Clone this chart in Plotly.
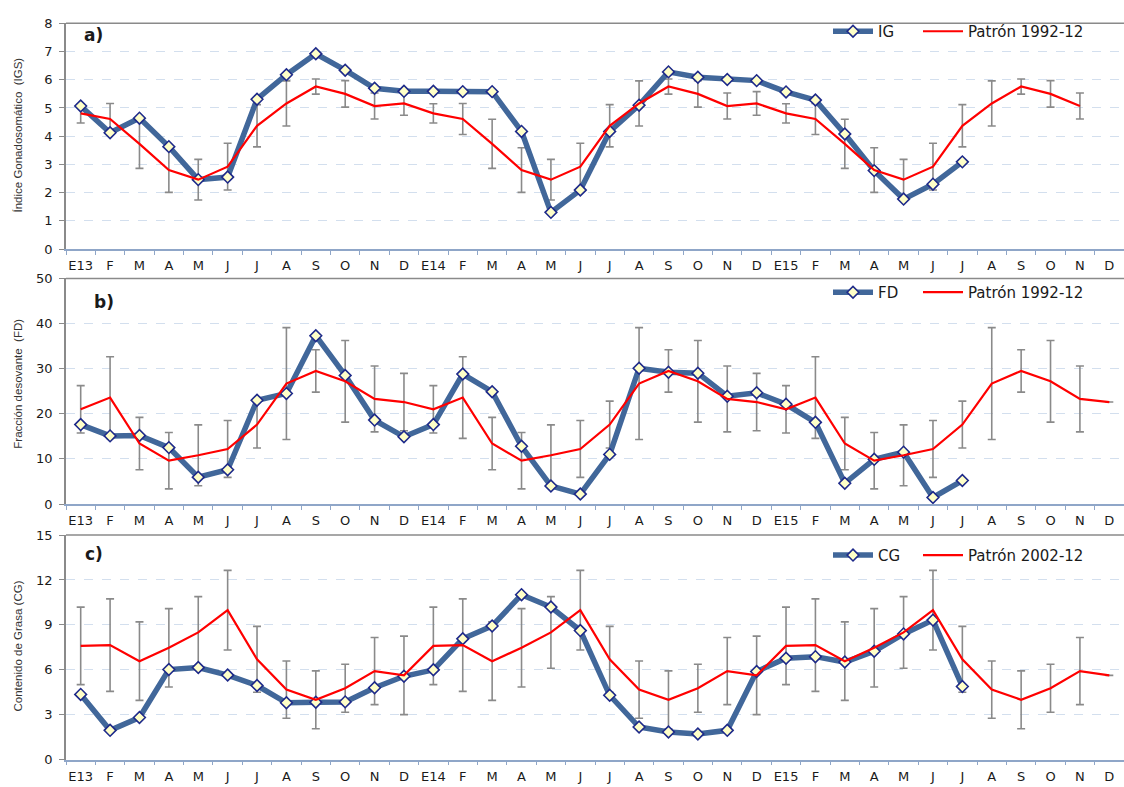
import plotly.graph_objects as go

# Month labels for the three-year window (Jan 2013 - Dec 2015)
months = ["E13", "F", "M", "A", "M", "J", "J", "A", "S", "O", "N", "D",
          "E14", "F", "M", "A", "M", "J", "J", "A", "S", "O", "N", "D",
          "E15", "F", "M", "A", "M", "J", "J", "A", "S", "O", "N", "D"]

# a) Gonadosomatic index: observed series and 1992-12 monthly pattern (mean, sd)
ig = [5.07, 4.12, 4.64, 3.63, 2.46, 2.55, 5.31, 6.18, 6.92, 6.34, 5.70, 5.59,
      5.59, 5.58, 5.58, 4.17, 1.30, 2.09, 4.17, 5.10, 6.28, 6.09, 6.01, 5.97,
      5.57, 5.28, 4.08, 2.78, 1.77, 2.30, 3.09]
ig_patron = [4.81, 4.61, 3.73, 2.80, 2.46, 2.92, 4.37, 5.16, 5.76, 5.50, 5.07, 5.16,
             4.81, 4.61, 3.73, 2.80, 2.46, 2.92, 4.37, 5.16, 5.76, 5.50, 5.07, 5.16,
             4.81, 4.61, 3.73, 2.80, 2.46, 2.92, 4.37, 5.16, 5.76, 5.50, 5.07]
ig_patron_sd = [0.34, 0.55, 0.87, 0.79, 0.72, 0.83, 0.75, 0.80, 0.27, 0.47, 0.46, 0.42,
                0.34, 0.55, 0.87, 0.79, 0.72, 0.83, 0.75, 0.80, 0.27, 0.47, 0.46, 0.42,
                0.34, 0.55, 0.87, 0.79, 0.72, 0.83, 0.75, 0.80, 0.27, 0.47, 0.46]

# b) Spawning fraction
fd = [17.6, 15.1, 15.2, 12.5, 5.95, 7.6, 23.0, 24.5, 37.3, 28.5, 18.6, 14.9,
      17.6, 28.8, 24.9, 12.8, 4.0, 2.2, 11.0, 30.1, 29.2, 29.0, 23.9, 24.65,
      22.1, 18.1, 4.6, 9.9, 11.5, 1.45, 5.2]
fd_patron = [21.0, 23.6, 13.4, 9.6, 10.8, 12.2, 17.6, 26.7, 29.5, 27.2, 23.3, 22.6,
             21.0, 23.6, 13.4, 9.6, 10.8, 12.2, 17.6, 26.7, 29.5, 27.2, 23.3, 22.6,
             21.0, 23.6, 13.4, 9.6, 10.8, 12.2, 17.6, 26.7, 29.5, 27.2, 23.3, 22.6]
fd_patron_sd = [5.25, 9.05, 5.8, 6.25, 6.75, 6.3, 5.2, 12.4, 4.7, 9.05, 7.3, 6.35,
                5.25, 9.05, 5.8, 6.25, 6.75, 6.3, 5.2, 12.4, 4.7, 9.05, 7.3, 6.35,
                5.25, 9.05, 5.8, 6.25, 6.75, 6.3, 5.2, 12.4, 4.7, 9.05, 7.3, None]

# c) Fat content, pattern 2002-12
cg = [4.36, 1.96, 2.82, 6.02, 6.15, 5.65, 4.95, 3.80, 3.84, 3.86, 4.80, 5.57,
      6.00, 8.07, 8.93, 11.02, 10.19, 8.62, 4.30, 2.18, 1.85, 1.72, 1.96, 5.89,
      6.77, 6.88, 6.52, 7.24, 8.40, 9.32, 4.89]
cg_patron = [7.60, 7.65, 6.58, 7.47, 8.50, 9.98, 6.70, 4.68, 4.00, 4.77, 5.92, 5.63,
             7.60, 7.65, 6.58, 7.47, 8.50, 9.98, 6.70, 4.68, 4.00, 4.77, 5.92, 5.63,
             7.60, 7.65, 6.58, 7.47, 8.50, 9.98, 6.70, 4.68, 4.00, 4.77, 5.92, 5.63]
cg_patron_sd = [2.59, 3.09, 2.62, 2.62, 2.39, 2.66, 2.20, 1.91, 1.93, 1.60, 2.24, 2.62,
                2.59, 3.09, 2.62, 2.62, 2.39, 2.66, 2.20, 1.91, 1.93, 1.60, 2.24, 2.62,
                2.59, 3.09, 2.62, 2.62, 2.39, 2.66, 2.20, 1.91, 1.93, 1.60, 2.24, None]

BLUE = "#41679A"
MARKER_FILL = "#FFFFC8"
MARKER_EDGE = "#1E2A8A"
RED = "#FF0000"
GREY = "#8A8A8A"
GRID = "#D3DFEE"
XAXIS_COLOR = "#8FA6C8"
FONT = "DejaVu Sans"
TEXT = "#1A1A1A"

panels = [
    dict(obs=ig, obs_name="IG", pat=ig_patron, sd=ig_patron_sd, pat_name="Patrón 1992-12",
         ymax=8, dtick=1, title="Índice Gonadosomático  (IGS)", tag="a)",
         domain=(0.6865, 0.9788), tag_pos=(82, 29), title_y=131, leg_y=25),
    dict(obs=fd, obs_name="FD", pat=fd_patron, sd=fd_patron_sd, pat_name="Patrón 1992-12",
         ymax=50, dtick=10, title="Fracción desovante  (FD)", tag="b)",
         domain=(0.3562, 0.6484), tag_pos=(92, 301), title_y=384, leg_y=291),
    dict(obs=cg, obs_name="CG", pat=cg_patron, sd=cg_patron_sd, pat_name="Patrón 2002-12",
         ymax=15, dtick=3, title="Contenido de Grasa (CG)", tag="c)",
         domain=(0.0250, 0.3160), tag_pos=(83, 558), title_y=652, leg_y=559),
]

W, H = 1124, 787
L = 66
PW = W - L
LEG_OBS_X = 828   # left edge of the observed-series legend entry
LEG_PAT_X = 918   # left edge of the pattern legend entry

fig = go.Figure()
layout = dict(
    width=W, height=H, autosize=False,
    margin=dict(l=L, r=0, t=0, b=0),
    paper_bgcolor="white", plot_bgcolor="white",
    showlegend=True,
    annotations=[], shapes=[],
)


def legend_box(x_px, y_px):
    return dict(
        orientation="h", xanchor="left", yanchor="middle",
        x=(x_px - L) / PW, y=1 - y_px / H,
        bgcolor="rgba(0,0,0,0)", borderwidth=0,
        font=dict(family=FONT, size=15, color=TEXT),
        itemwidth=40,
    )


for i, p in enumerate(panels, start=1):
    xa = "x" if i == 1 else f"x{i}"
    ya = "y" if i == 1 else f"y{i}"
    xkey = "xaxis" if i == 1 else f"xaxis{i}"
    ykey = "yaxis" if i == 1 else f"yaxis{i}"
    leg_obs = "legend" if i == 1 else f"legend{2 * i - 1}"
    leg_pat = f"legend{2 * i}"

    # standard deviation whiskers of the monthly pattern
    fig.add_trace(go.Scatter(
        x=list(range(len(p["pat"]))), y=p["pat"], mode="markers",
        marker=dict(size=1, opacity=0),
        error_y=dict(type="data", array=p["sd"], visible=True,
                     color=GREY, thickness=1.6, width=4),
        xaxis=xa, yaxis=ya, showlegend=False, hoverinfo="skip",
    ))
    # observed monthly series
    fig.add_trace(go.Scatter(
        x=list(range(len(p["obs"]))), y=p["obs"], name=p["obs_name"],
        mode="lines+markers",
        line=dict(color=BLUE, width=5.5),
        marker=dict(symbol="diamond", size=9, color=MARKER_FILL,
                    line=dict(color=MARKER_EDGE, width=1.6)),
        xaxis=xa, yaxis=ya, legend=leg_obs,
    ))
    # historical pattern mean
    fig.add_trace(go.Scatter(
        x=list(range(len(p["pat"]))), y=p["pat"], name=p["pat_name"],
        mode="lines", line=dict(color=RED, width=2.2),
        xaxis=xa, yaxis=ya, legend=leg_pat,
    ))

    layout[xkey] = dict(
        domain=[0, 1], anchor=ya, range=[-0.5, len(months) - 0.5],
        tickmode="array", tickvals=list(range(len(months))), ticktext=months,
        ticks="outside", ticklen=4, tickcolor="rgba(0,0,0,0)",
        minor=dict(tickmode="array",
                   tickvals=[k - 0.5 for k in range(len(months) + 1)],
                   ticks="outside", ticklen=4, tickcolor=XAXIS_COLOR,
                   tickwidth=1, showgrid=False),
        showline=True, linecolor=XAXIS_COLOR, linewidth=1.5,
        showgrid=False, zeroline=False,
        tickfont=dict(family=FONT, size=13, color=TEXT),
        fixedrange=True,
    )
    layout[ykey] = dict(
        domain=list(p["domain"]), anchor=xa, range=[0, p["ymax"]],
        dtick=p["dtick"], tick0=0,
        ticks="outside", ticklen=5, tickcolor=GREY, tickwidth=1,
        showline=True, linecolor=GREY, linewidth=1.8,
        showgrid=True, gridcolor=GRID, griddash="dash", gridwidth=1,
        zeroline=False,
        tickfont=dict(family=FONT, size=13, color=TEXT),
        ticklabelstandoff=4,
        fixedrange=True,
    )
    layout[leg_obs] = legend_box(LEG_OBS_X, p["leg_y"])
    layout[leg_pat] = legend_box(LEG_PAT_X, p["leg_y"])

    # panel top border
    layout["shapes"].append(dict(
        type="line", xref=f"{xa} domain", yref=f"{ya} domain",
        x0=0, x1=1, y0=1, y1=1, line=dict(color=GREY, width=1.5),
    ))
    # panel tag
    layout["annotations"].append(dict(
        text=p["tag"], xref="paper", yref="paper",
        x=(p["tag_pos"][0] - L) / PW, y=1 - p["tag_pos"][1] / H,
        xanchor="left", yanchor="middle", showarrow=False,
        font=dict(family=FONT, size=17, color=TEXT, weight="bold"),
    ))
    # y-axis title
    layout["annotations"].append(dict(
        text=p["title"], xref="paper", yref="paper",
        x=(18 - L) / PW, y=1 - p["title_y"] / H,
        xanchor="center", yanchor="middle", textangle=-90, showarrow=False,
        font=dict(family="Liberation Sans", size=11.5, color="#333333"),
    ))

fig.update_layout(**layout)
fig.write_html("out.html")
